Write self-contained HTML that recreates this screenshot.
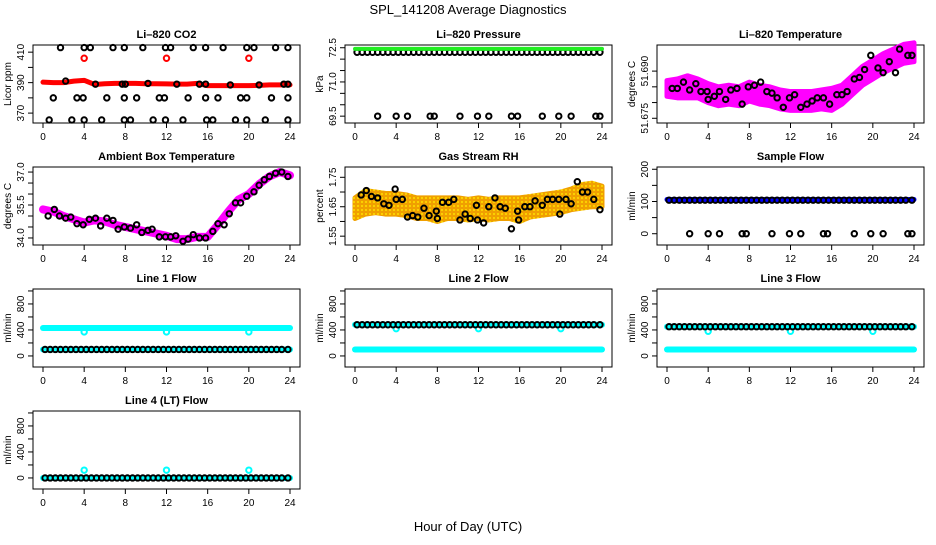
<!DOCTYPE html>
<html><head><meta charset="utf-8"><style>
body{margin:0;background:#fff;}
svg text{font-family:"Liberation Sans",sans-serif;}
</style></head><body>
<svg id="c" width="936" height="540" xmlns="http://www.w3.org/2000/svg">
<defs>
<pattern id="rhp" width="4" height="4" patternUnits="userSpaceOnUse"><rect width="4" height="4" fill="#f0a000"/><circle cx="2" cy="2" r="1" fill="#ffe000"/></pattern>
</defs>
<text x="468" y="14" text-anchor="middle" font-size="13">SPL_141208  Average Diagnostics</text>
<text x="468" y="531" text-anchor="middle" font-size="13">Hour of Day (UTC)</text>
</svg>
<script>
const hours = [0,1,2,3,4,5,6,7,8,9,10,11,12,13,14,15,16,17,18,19,20,21,22,23,24];
const halfHours = [0.2,0.7,1.2,1.7,2.2,2.7,3.2,3.7,4.2,4.7,5.2,5.7,6.2,6.7,7.2,7.7,8.2,8.7,9.2,9.7,10.2,10.7,11.2,11.7,12.2,12.7,13.2,13.7,14.2,14.7,15.2,15.7,16.2,16.7,17.2,17.7,18.2,18.7,19.2,19.7,20.2,20.7,21.2,21.7,22.2,22.7,23.2,23.8];
const calHours = [4,12,20];
const co2Red = [390.3,390,390,391,391.5,388.8,389.3,389.5,389.5,389.5,389.3,389.3,389.2,389,389,389.5,388,388,388,388,388,388.2,388.5,388.5,388.5];
const co2Cal = [406,406,406];
const co2TopT = [1.7,4,4.6,6.8,7.9,9.7,11.9,12.4,14.6,15.8,17.5,19.8,20.5,22.6,23.8];
const co2MidT = [1,3.3,3.9,6.2,7.9,9.1,11.3,11.8,14.1,15.8,17,19.2,19.8,22.2,23.8];
const co2AmbT = [2.2,5.1,7.7,8,10.2,13,15.2,15.8,18.2,21,23.4,23.8];
const co2AmbV = [391,389,389,389,389.5,389,389,389,388.5,388.5,389,389];
const co2LowT = [0.6,2.8,4,5.7,7.9,8.5,10.7,11.9,13.6,15.9,16.5,18.7,19.8,21.6,23.8];
const presGreen = [72.45,72.45,72.45,72.45,72.45,72.45,72.45,72.45,72.45,72.45,72.45,72.45,72.45,72.45,72.45,72.45,72.45,72.45,72.45,72.45,72.45,72.45,72.45,72.45,72.45];
const presLowT = [2.2,4,5.1,7.3,7.7,10.2,11.9,13,15.2,15.8,18.2,19.8,21,23.4,23.8];
const tempMid = [51.6845,51.6845,51.685,51.6845,51.683,51.682,51.6825,51.682,51.6835,51.6825,51.682,51.681,51.6805,51.6805,51.6805,51.681,51.681,51.6825,51.6855,51.6885,51.6905,51.6925,51.694,51.6955,51.696];
const tempSpread = [0.0025,0.003,0.0035,0.003,0.003,0.003,0.003,0.003,0.003,0.003,0.003,0.003,0.003,0.003,0.003,0.003,0.0035,0.003,0.003,0.003,0.003,0.003,0.003,0.003,0.003];
const tempBlkT = [0.5,1,1.6,2.2,2.8,3.3,3.9,4,4.6,5.1,5.7,6.2,6.8,7.3,7.9,8.5,9.1,9.7,10.2,10.7,11.3,11.9,12.4,13,13.6,14.1,14.6,15.2,15.8,16.5,17,17.5,18.2,18.7,19.2,19.8,20.5,21,21.6,22.2,22.6,23.4,23.8];
const tempBlkV = [51.6845,51.6845,51.6865,51.684,51.686,51.6835,51.6835,51.681,51.682,51.6835,51.681,51.684,51.6845,51.6795,51.685,51.6855,51.6865,51.6835,51.683,51.6815,51.6785,51.6815,51.6825,51.6785,51.6795,51.6805,51.6815,51.6815,51.6795,51.6825,51.6825,51.6835,51.6875,51.688,51.6905,51.695,51.691,51.6895,51.693,51.6895,51.697,51.695,51.695];
const ambMid = [35.3,35.2,35.0,34.85,34.7,34.8,34.75,34.6,34.5,34.4,34.3,34.2,34.1,33.95,33.95,34.05,34.05,34.6,35.2,35.75,36.0,36.45,36.8,37.0,36.85];
const ambBlkT = [0.5,1.1,1.6,2.2,2.7,3.3,3.9,4.5,5.1,5.6,6.2,6.8,7.3,7.9,8.5,9.1,9.6,10.2,10.6,11.3,11.9,12.4,12.9,13.6,14.1,14.6,15.2,15.8,16.5,17,17.6,18.1,18.7,19.2,19.8,20.5,21,21.5,22,22.6,23.2,23.8];
const ambBlkV = [35.0,35.3,35.0,34.9,34.95,34.65,34.6,34.85,34.9,34.55,34.9,34.8,34.4,34.5,34.45,34.6,34.25,34.35,34.4,34.05,34.05,34.05,34.1,33.85,33.95,34.15,34.0,34.0,34.3,34.65,34.6,35.1,35.6,35.6,35.9,36.1,36.4,36.65,36.8,36.95,37.0,36.8];
const rhMid = [1.645,1.665,1.665,1.66,1.66,1.655,1.645,1.645,1.64,1.645,1.645,1.64,1.645,1.64,1.645,1.645,1.64,1.65,1.655,1.66,1.665,1.675,1.685,1.69,1.685];
const rhSpread = [0.035,0.04,0.035,0.035,0.035,0.035,0.035,0.035,0.04,0.035,0.035,0.035,0.035,0.035,0.035,0.035,0.04,0.035,0.035,0.035,0.035,0.035,0.04,0.04,0.035];
const rhBlkT = [0.6,1.1,1.6,2.2,2.8,3.3,3.9,4,4.6,5.1,5.6,6.1,6.7,7.2,7.9,8,8.5,9.1,9.6,10.2,10.7,11.2,11.8,11.9,12.5,13,13.6,14.1,14.6,15.2,15.8,15.9,16.5,17,17.5,18.2,18.7,19.2,19.8,19.9,20.5,21,21.6,22.1,22.6,23.2,23.8];
const rhBlkV = [1.69,1.705,1.685,1.68,1.66,1.655,1.71,1.675,1.675,1.615,1.62,1.615,1.645,1.62,1.635,1.61,1.665,1.665,1.675,1.605,1.625,1.61,1.655,1.605,1.595,1.65,1.68,1.65,1.645,1.575,1.635,1.605,1.65,1.65,1.67,1.655,1.675,1.675,1.675,1.625,1.675,1.66,1.735,1.7,1.7,1.675,1.64];
const sfBlue = [106,106,106,106,106,106,106,106,106,106,106,106,106,106,106,106,106,106,106,106,106,106,106,106,106];
const sfZeroT = [2.2,4,5.1,7.3,7.7,10.2,11.9,13,15.2,15.6,18.2,19.8,21,23.4,23.8];
const l1High = 430, l1Low = 100, l1Cal = 370;
const l2High = 480, l2Low = 100, l2Cal = 420;
const l3High = 450, l3Low = 100, l3Cal = 380;
const l4Low = 0, l4Cal = 120;

const svg = document.getElementById('c');
const NS = 'http://www.w3.org/2000/svg';
function mk(tag, attrs, parent){const e=document.createElementNS(NS,tag);for(const k in attrs)e.setAttribute(k,attrs[k]);(parent||svg).appendChild(e);return e;}

const colLeft=[33,345,657], rowTop=[45,167,289,411];
function panel(col,row,title,ylab,ymin,ymax,ticks,labels,slug){
  const L=colLeft[col],T=rowTop[row],W=267,H=78;
  const g=mk('g',{});
  
  
  const P={g,L,T,W,H,
    x:t=>L+10+t*(247/24),
    y:v=>T+H-(v-ymin)/(ymax-ymin)*H};
  const b=mk('rect',{x:L,y:T,width:W,height:H,fill:'none',stroke:'#000','stroke-width':1},g);
  
  
  const tt=mk('text',{x:L+W/2,y:T-7,'text-anchor':'middle','font-size':11,'font-weight':'bold'},g);
  tt.textContent=title;
  
  
  [0,4,8,12,16,20,24].forEach(t=>{
    const x=P.x(t);
    mk('line',{x1:x,x2:x,y1:T+H,y2:T+H+5,stroke:'#000'},g);
    const tx=mk('text',{x:x,y:T+H+17,'text-anchor':'middle','font-size':10},g);
    tx.textContent=t;
    
    
  });
  ticks.forEach(v=>{const y=P.y(v);mk('line',{x1:L-5,x2:L,y1:y,y2:y,stroke:'#000'},g);});
  labels.forEach(v=>{
    const y=P.y(v);
    const tx=mk('text',{x:L-9,y:y,'text-anchor':'middle','font-size':10,transform:`rotate(-90 ${L-9} ${y})`},g);
    tx.textContent=v;
    
    
  });
  const yl=mk('text',{x:L-22,y:T+H/2,'text-anchor':'middle','font-size':10,transform:`rotate(-90 ${L-22} ${T+H/2})`},g);
  yl.textContent=ylab;
  
  
  return P;
}
function thick(P,ts,vs,color,w,name){
  const pts=ts.map((t,i)=>P.x(t)+','+P.y(vs[i])).join(' ');
  const e=mk('polyline',{points:pts,fill:'none',stroke:color,'stroke-width':w,'stroke-linejoin':'round','stroke-linecap':'round'},P.g);
  
  
}
function band(P,ts,mid,sp,fill,name){
  const up=ts.map((t,i)=>P.x(t)+','+P.y(mid[i]+sp[i]));
  const dn=ts.map((t,i)=>P.x(t)+','+P.y(mid[i]-sp[i])).reverse();
  const e=mk('polygon',{points:up.concat(dn).join(' '),fill:fill,stroke:fill,'stroke-width':5,'stroke-linejoin':'round'},P.g);
  
  
}
function circles(P,ts,vs,color,name){
  ts.forEach((t,i)=>{
    const v=Array.isArray(vs)?vs[i]:vs;
    const c=mk('circle',{cx:P.x(t),cy:P.y(v),r:2.7,fill:'none',stroke:color,'stroke-width':2},P.g);
    
    
  });
}
const flat=(n,v)=>hours.map(()=>v);

let P=panel(0,0,'Li\u2013820 CO2','Licor ppm',363.5,414.7,[370,380,390,400,410],[370,390,410],'co2');
thick(P,hours,co2Red,'#f00',5,'co2-red-series');
circles(P,calHours,co2Cal,'#f00','co2-cal-point');
circles(P,co2TopT,413,'#000','co2-black-point');
circles(P,co2MidT,380,'#000','co2-black-point');
circles(P,co2AmbT,co2AmbV,'#000','co2-black-point');
circles(P,co2LowT,365.5,'#000','co2-black-point');

P=panel(1,0,'Li\u2013820 Pressure','kPa',69.2,72.62,[69.5,70,70.5,71,71.5,72,72.5],[69.5,71.0,72.5].map(v=>v.toFixed(1)),'pressure');
circles(P,halfHours,72.3,'#000','pressure-black-point');
thick(P,hours,presGreen,'#2e2',4,'pressure-green-series');
circles(P,presLowT,69.5,'#000','pressure-black-point');

P=panel(2,0,'Li\u2013820 Temperature','degrees C',51.6735,51.6983,[51.675,51.68,51.685,51.69],[51.675,51.69].map(v=>v.toFixed(3)),'li820-temp');
band(P,hours,tempMid,tempSpread,'#f0f','li820-temp-magenta-cloud');
circles(P,tempBlkT,tempBlkV,'#000','li820-temp-black-point');

P=panel(0,1,'Ambient Box Temperature','degrees C',33.68,37.23,[34,34.5,35,35.5,36,36.5,37],[34.0,35.5,37.0].map(v=>v.toFixed(1)),'ambient-temp');
thick(P,hours,ambMid,'#f0f',8,'ambient-temp-magenta-series');
circles(P,ambBlkT,ambBlkV,'#000','ambient-temp-black-point');

P=panel(1,1,'Gas Stream RH','percent',1.52,1.785,[1.55,1.6,1.65,1.7,1.75],[1.55,1.65,1.75],'gas-rh');
band(P,hours,rhMid,rhSpread,'url(#rhp)','gas-rh-orange-cloud');
circles(P,rhBlkT,rhBlkV,'#000','gas-rh-black-point');

P=panel(2,1,'Sample Flow','ml/min',-35,207,[0,50,100,150,200],[0,100,200],'sample-flow');
thick(P,hours,sfBlue,'#00f',5,'sample-flow-blue-series');
circles(P,halfHours,104,'#000','sample-flow-black-point');
circles(P,sfZeroT,0,'#000','sample-flow-black-point');

const fy=[-170,1030],fticks=[0,200,400,600,800,1000],flabs=[0,400,800];
P=panel(0,2,'Line 1 Flow','ml/min',fy[0],fy[1],fticks,flabs,'line1-flow');
thick(P,hours,flat(0,l1High),'#0ff',6,'line1-cyan-high');
thick(P,hours,flat(0,l1Low),'#0ff',6,'line1-cyan-low');
circles(P,calHours,l1Cal,'#0ff','line1-cal-point');
circles(P,halfHours,l1Low,'#000','line1-black-point');

P=panel(1,2,'Line 2 Flow','ml/min',fy[0],fy[1],fticks,flabs,'line2-flow');
thick(P,hours,flat(0,l2High),'#0ff',6,'line2-cyan-high');
thick(P,hours,flat(0,l2Low),'#0ff',6,'line2-cyan-low');
circles(P,calHours,l2Cal,'#0ff','line2-cal-point');
circles(P,halfHours,l2High,'#000','line2-black-point');

P=panel(2,2,'Line 3 Flow','ml/min',fy[0],fy[1],fticks,flabs,'line3-flow');
thick(P,hours,flat(0,l3High),'#0ff',6,'line3-cyan-high');
thick(P,hours,flat(0,l3Low),'#0ff',6,'line3-cyan-low');
circles(P,calHours,l3Cal,'#0ff','line3-cal-point');
circles(P,halfHours,l3High,'#000','line3-black-point');

P=panel(0,3,'Line 4 (LT) Flow','ml/min',fy[0],fy[1],fticks,flabs,'line4-flow');
thick(P,hours,flat(0,l4Low),'#0ff',6,'line4-cyan-low');
circles(P,calHours,l4Cal,'#0ff','line4-cal-point');
circles(P,halfHours,l4Low,'#000','line4-black-point');
</script>
</body></html>
